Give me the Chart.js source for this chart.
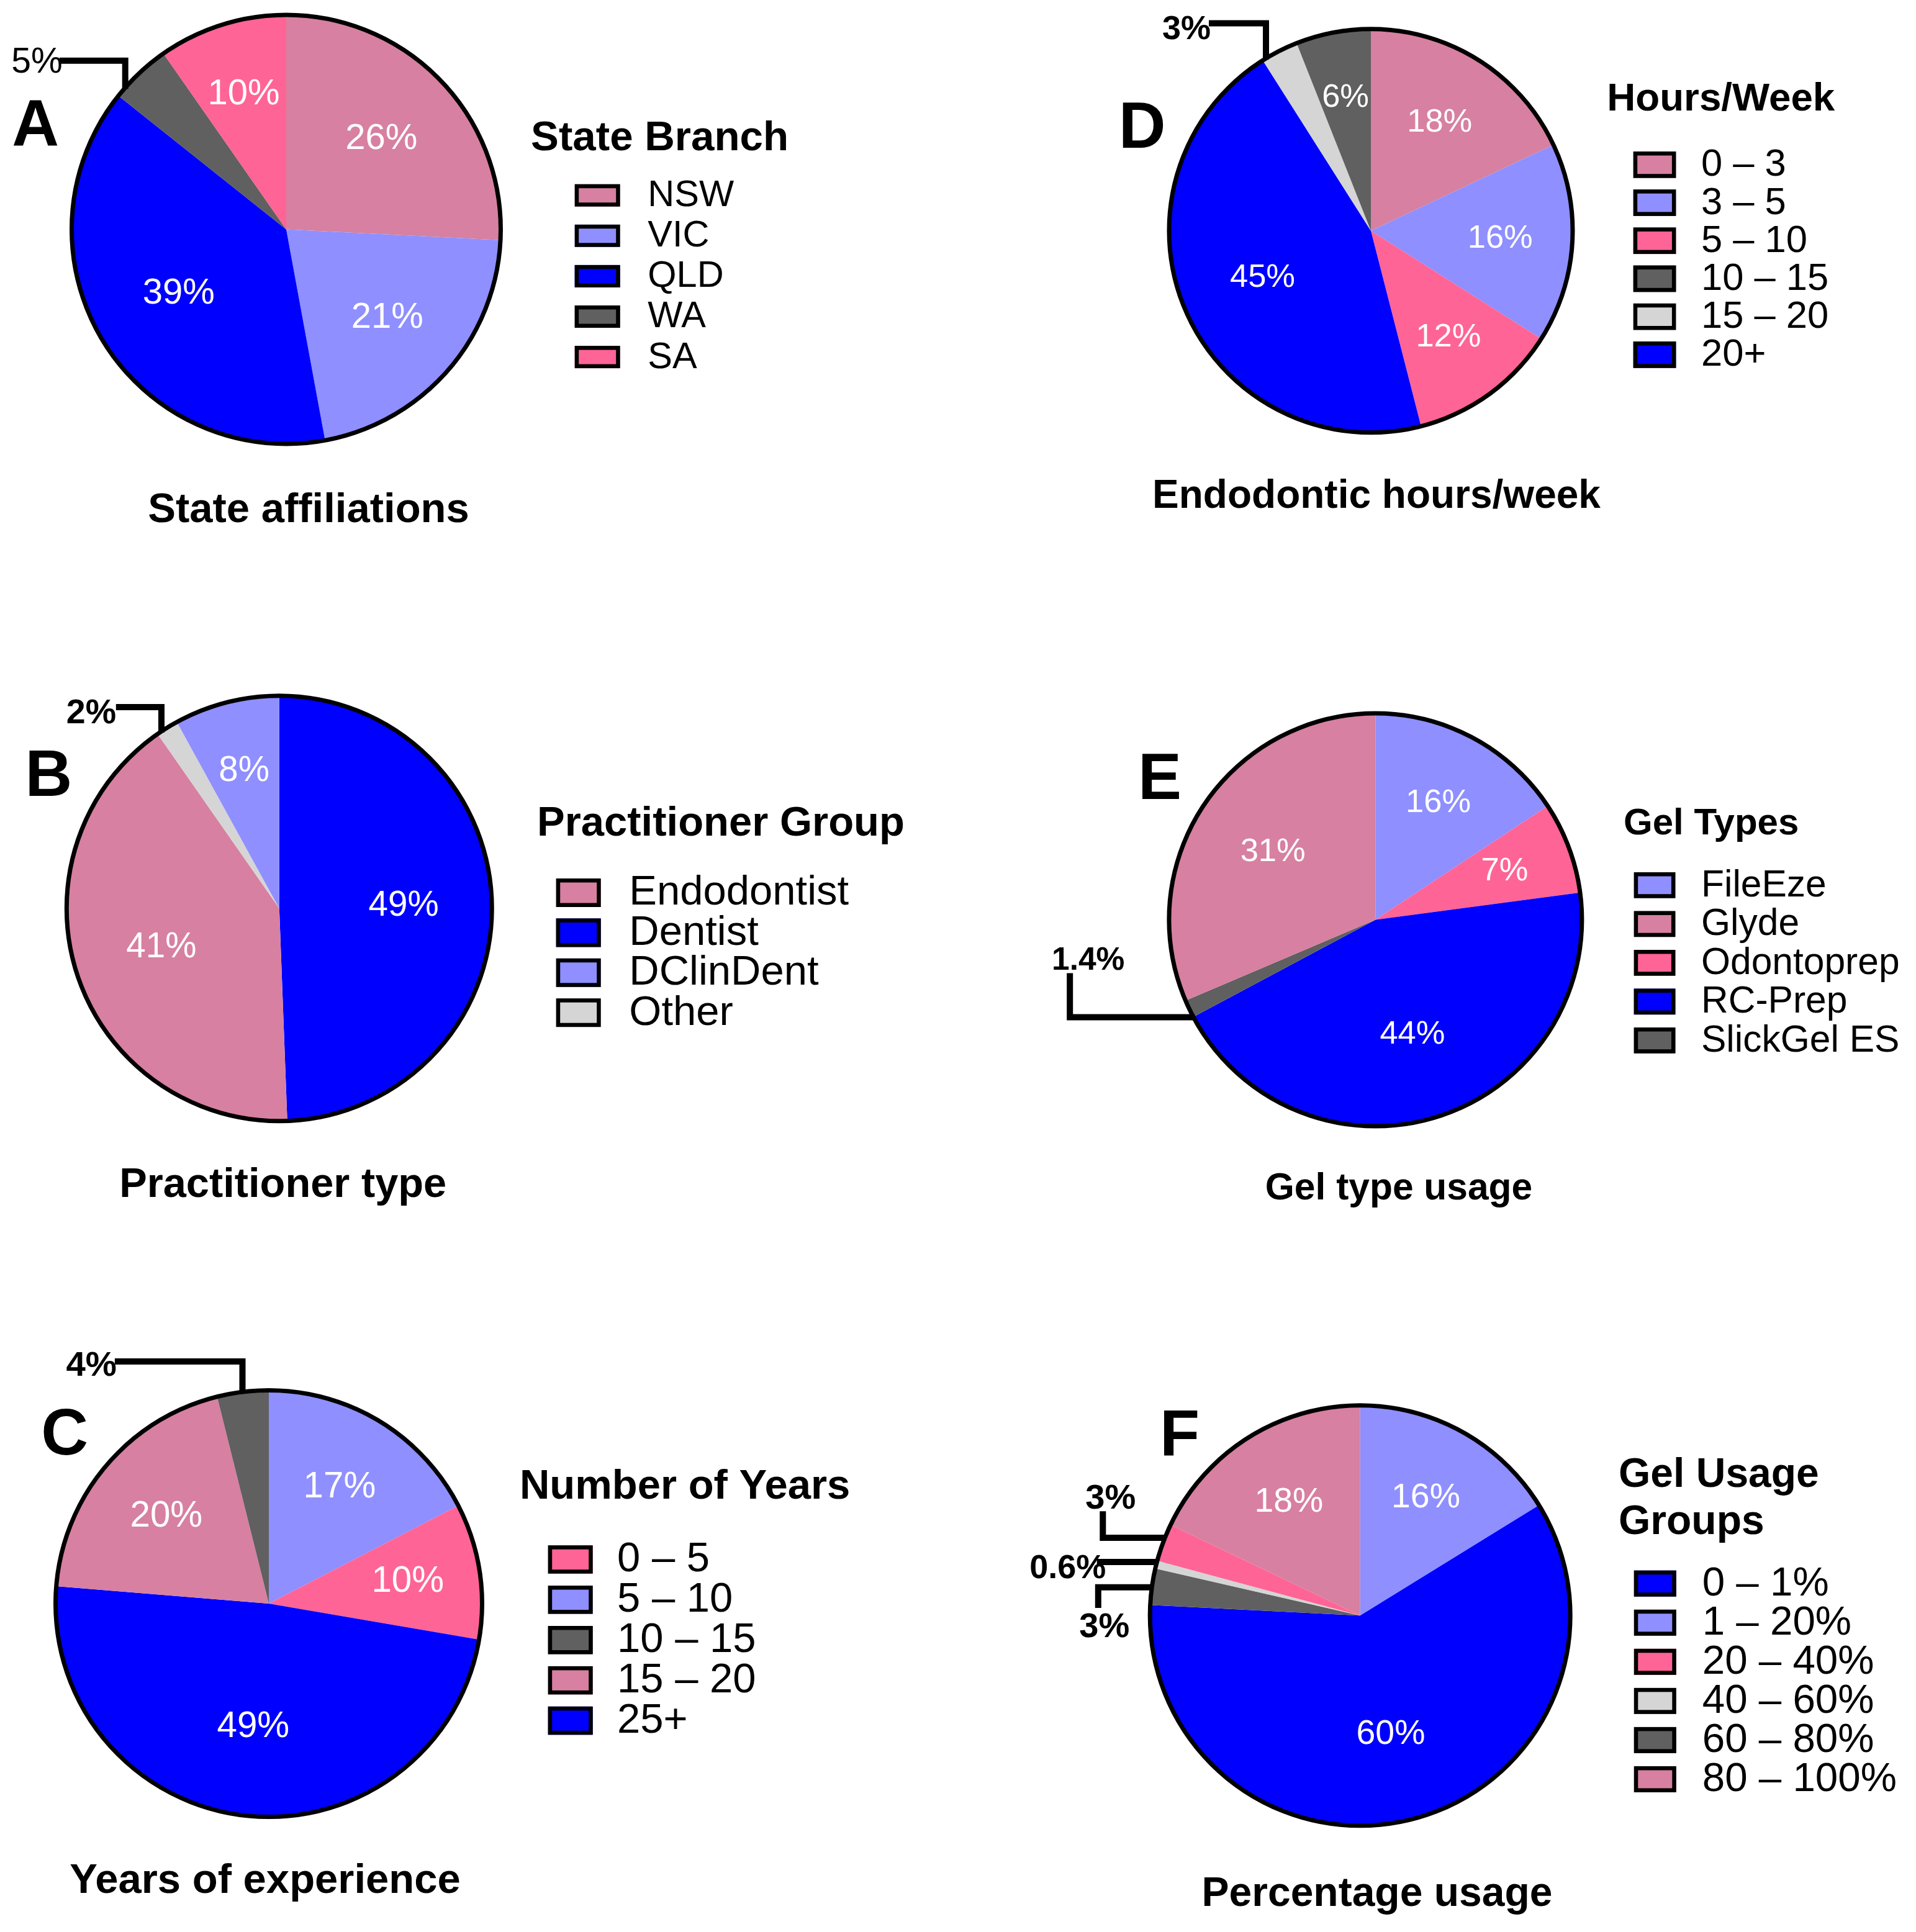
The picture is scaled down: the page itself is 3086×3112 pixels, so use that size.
<!DOCTYPE html>
<html><head><meta charset="utf-8">
<script src="https://cdn.jsdelivr.net/npm/chart.js@4"></script>
<style>
html,body{margin:0;padding:0;background:#fff;}
#wrap{position:relative;width:3086px;height:3112px;background:#fff;overflow:hidden;}
#wrap canvas{position:absolute;}
</style></head><body><div id="wrap"></div>
<script>
// ---------------- DATA ----------------
const stateCategories = ['NSW','VIC','QLD','WA','SA'];
const stateValues = [25.8, 21.3, 38.6, 4.6, 9.7];
const stateLabels = ['26%','21%','39%','5%','10%'];
const stateSliceOrder = [0,1,2,3,4];

const practitionerCategories = ['Endodontist','Dentist','DClinDent','Other'];
const practitionerValues = [40.9, 49.4, 8.0, 1.7];
const practitionerLabels = ['41%','49%','8%','2%'];
const practitionerSliceOrder = [1,0,3,2];

const yearsCategories = ['0 \u2013 5','5 \u2013 10','10 \u2013 15','15 \u2013 20','25+'];
const yearsValues = [10.3, 17.4, 3.9, 19.8, 48.6];
const yearsLabels = ['10%','17%','4%','20%','49%'];
const yearsSliceOrder = [1,0,4,3,2];

const hoursCategories = ['0 \u2013 3','3 \u2013 5','5 \u2013 10','10 \u2013 15','15 \u2013 20','20+'];
const hoursValues = [18, 16, 12, 6, 3, 45];
const hoursLabels = ['18%','16%','12%','6%','3%','45%'];
const hoursSliceOrder = [0,1,2,5,4,3];

const gelCategories = ['FileEze','Glyde','Odontoprep','RC-Prep','SlickGel ES'];
const gelValues = [15.7, 31.4, 7.2, 44.3, 1.4];
const gelLabels = ['16%','31%','7%','44%','1.4%'];
const gelSliceOrder = [0,2,3,4,1];

const usageCategories = ['0 \u2013 1%','1 \u2013 20%','20 \u2013 40%','40 \u2013 60%','60 \u2013 80%','80 \u2013 100%'];
const usageValues = [59.6, 16.2, 2.9, 0.6, 2.8, 17.9];
const usageLabels = ['60%','16%','3%','0.6%','3%','18%'];
const usageSliceOrder = [1,0,4,3,2,5];

// ---------------- STYLE ----------------
const C = {mauve:'#D780A1', lav:'#8F8FFF', blue:'#0000FF', dark:'#606060', light:'#D5D5D5', pink:'#FF6496'};
const FONT = '"Liberation Sans", Arial, Helvetica, sans-serif';
const OUTLINE = 7;      // pie outline width
const LEADER = 10;      // callout leader width
const BOXLINE = 6.5;    // legend box border

const panels = [
 { cats: stateCategories, vals: stateValues, labels: stateLabels, order: stateSliceOrder,
   colors: [C.mauve, C.lav, C.blue, C.dark, C.pink],
   region: {x:0, y:0, w:1543, h:1037}, pie: {cx:461, cy:369.5, r:349},
   letter: {t:'A', x:19.3, y:235}, legendTitle: {lines:['State Branch'], x:855, y:[242.3], size:67.3},
   legend: {bx:925.7, by:296.7, bw:73, bh:36, sp:65.1, tx:1043.3, size:59.5},
   title: {t:'State affiliations', x:497, y:841, size:67}, labelSize: 58,
   callouts: [{i:3, text:'5%', x:18.3, y:116.7, size:57, bold:false, pts:[[96,97.7],[201.7,97.7]], to:'down'}] },
 { cats: hoursCategories, vals: hoursValues, labels: hoursLabels, order: hoursSliceOrder,
   colors: [C.mauve, C.lav, C.pink, C.dark, C.light, C.blue],
   region: {x:1543, y:0, w:1543, h:1037}, pie: {cx:2208, cy:371.7, r:328.5},
   letter: {t:'D', x:1801.8, y:238.2}, legendTitle: {lines:['Hours/Week'], x:2588.3, y:[177.7], size:63.7},
   legend: {bx:2630.7, by:244, bw:68.7, bh:42.7, sp:61.2, tx:2740, size:61.5},
   title: {t:'Endodontic hours/week', x:2217, y:817.5, size:64}, labelSize: 52.5,
   callouts: [{i:4, text:'3%', x:1872, y:63.3, size:54, bold:true, pts:[[1947,37.6],[2039,37.6]], to:'down'}] },
 { cats: practitionerCategories, vals: practitionerValues, labels: practitionerLabels, order: practitionerSliceOrder,
   colors: [C.mauve, C.blue, C.lav, C.light],
   region: {x:0, y:1037, w:1543, h:1037}, pie: {cx:449.8, cy:1463.2, r:346},
   letter: {t:'B', x:40.5, y:1282.3}, legendTitle: {lines:['Practitioner Group'], x:865, y:[1346], size:67},
   legend: {bx:895.7, by:1415, bw:72, bh:46, sp:64.4, tx:1013.3, size:67},
   title: {t:'Practitioner type', x:455.7, y:1928.3, size:66.8}, labelSize: 56.5,
   callouts: [{i:3, text:'2%', x:106.8, y:1164.7, size:55.5, bold:true, pts:[[186.8,1139],[260,1139]], to:'down'}] },
 { cats: gelCategories, vals: gelValues, labels: gelLabels, order: gelSliceOrder,
   colors: [C.lav, C.mauve, C.pink, C.blue, C.dark],
   region: {x:1543, y:1037, w:1543, h:1037}, pie: {cx:2215.4, cy:1481.6, r:336},
   letter: {t:'E', x:1832.9, y:1286.8}, legendTitle: {lines:['Gel Types'], x:2615, y:[1344], size:60},
   legend: {bx:2631.7, by:1405, bw:66.7, bh:41.7, sp:62.5, tx:2740, size:60.5},
   title: {t:'Gel type usage', x:2253, y:1932.3, size:60.5}, labelSize: 52.5,
   callouts: [{i:4, text:'1.4%', x:1694, y:1562.1, size:51.5, bold:true, pts:[[1723.2,1567.6],[1723.2,1638.5]], to:'right'}] },
 { cats: yearsCategories, vals: yearsValues, labels: yearsLabels, order: yearsSliceOrder,
   colors: [C.pink, C.lav, C.dark, C.mauve, C.blue],
   region: {x:0, y:2074, w:1543, h:1038}, pie: {cx:433, cy:2583, r:347},
   letter: {t:'C', x:66.2, y:2343.3}, legendTitle: {lines:['Number of Years'], x:836.9, y:[2413.9], size:67},
   legend: {bx:882.7, by:2489.2, bw:72, bh:45.5, sp:64.9, tx:994, size:67},
   title: {t:'Years of experience', x:427, y:3048.6, size:67}, labelSize: 58.3,
   callouts: [{i:2, text:'4%', x:106.4, y:2216.2, size:56.3, bold:true, pts:[[184.9,2193],[390.5,2193]], to:'down'}] },
 { cats: usageCategories, vals: usageValues, labels: usageLabels, order: usageSliceOrder,
   colors: [C.blue, C.lav, C.pink, C.light, C.dark, C.mauve],
   region: {x:1543, y:2074, w:1543, h:1038}, pie: {cx:2190.7, cy:2602.3, r:342},
   letter: {t:'F', x:1868, y:2345.3}, legendTitle: {lines:['Gel Usage','Groups'], x:2607, y:[2394.7,2470.5], size:66},
   legend: {bx:2631.8, by:2529.7, bw:68, bh:42, sp:63.05, tx:2741.7, size:65.5},
   title: {t:'Percentage usage', x:2218, y:3069.5, size:66}, labelSize: 55.4,
   callouts: [
     {i:2, text:'3%', x:1748.3, y:2430, size:56, bold:true, pts:[[1776.3,2434.3],[1776.3,2477]], to:'right'},
     {i:3, text:'0.6%', x:1658.3, y:2541.7, size:54, bold:true, pts:[[1766.7,2516]], to:'right'},
     {i:4, text:'3%', x:1738.3, y:2636.7, size:56, bold:true, pts:[[1768.8,2590],[1768.8,2556.7]], to:'right'}] }
];

function makePlugin(p) {
  return {
    id: 'panelDecor',
    afterDatasetsDraw(chart) {
      const ctx = chart.ctx;
      const arcs = chart.getDatasetMeta(0).data;
      if (!arcs.length) return;
      const ox = p.region.x, oy = p.region.y;
      ctx.save();
      ctx.translate(-ox, -oy); // draw in page coordinates
      const cx = arcs[0].x + ox, cy = arcs[0].y + oy, R = arcs[0].outerRadius;
      // outer outline of the pie
      ctx.beginPath();
      ctx.arc(cx, cy, R, 0, Math.PI * 2);
      ctx.lineWidth = OUTLINE; ctx.strokeStyle = '#000'; ctx.stroke();
      // labels inside slices
      const total = p.vals.reduce((a, b) => a + b, 0);
      const calloutIdx = p.callouts.map(c => c.i);
      ctx.fillStyle = '#fff';
      ctx.font = p.labelSize + 'px ' + FONT;
      ctx.textAlign = 'center'; ctx.textBaseline = 'middle';
      p.order.forEach((catIdx, k) => {
        if (calloutIdx.includes(catIdx)) return;
        const a = arcs[k];
        const mid = (a.startAngle + a.endAngle) / 2;
        const frac = p.vals[catIdx] / total;
        const f = Math.max(0.585, 0.69 - 0.3 * frac);
        ctx.fillText(p.labels[catIdx], cx + Math.cos(mid) * f * R, cy + Math.sin(mid) * f * R);
      });
      // callouts with elbow leaders ending on the pie edge
      p.callouts.forEach(c => {
        const pts = c.pts.map(q => q.slice());
        const last = pts[pts.length - 1];
        let end;
        if (c.to === 'down') { const dx = last[0] - cx; end = [last[0], cy - Math.sqrt(R * R - dx * dx) + 2]; }
        else { const dy = last[1] - cy; end = [cx - Math.sqrt(R * R - dy * dy) + 2, last[1]]; }
        pts.push(end);
        ctx.beginPath();
        ctx.moveTo(pts[0][0], pts[0][1]);
        for (let j = 1; j < pts.length; j++) ctx.lineTo(pts[j][0], pts[j][1]);
        ctx.lineWidth = LEADER; ctx.strokeStyle = '#000'; ctx.lineJoin = 'miter'; ctx.lineCap = 'butt';
        ctx.stroke();
        ctx.fillStyle = '#000';
        ctx.font = (c.bold ? 'bold ' : '') + c.size + 'px ' + FONT;
        ctx.textAlign = 'left'; ctx.textBaseline = 'alphabetic';
        ctx.fillText(c.text, c.x, c.y);
      });
      // panel letter
      ctx.fillStyle = '#000';
      ctx.font = 'bold 105px ' + FONT;
      ctx.textAlign = 'left'; ctx.textBaseline = 'alphabetic';
      ctx.fillText(p.letter.t, p.letter.x, p.letter.y);
      // legend title
      ctx.font = 'bold ' + p.legendTitle.size + 'px ' + FONT;
      p.legendTitle.lines.forEach((ln, j) => ctx.fillText(ln, p.legendTitle.x, p.legendTitle.y[j]));
      // legend entries
      const L = p.legend;
      p.cats.forEach((cat, j) => {
        const y = L.by + j * L.sp;
        ctx.fillStyle = p.colors[j];
        ctx.fillRect(L.bx, y, L.bw, L.bh);
        ctx.lineWidth = BOXLINE; ctx.strokeStyle = '#000'; ctx.lineJoin = 'miter';
        ctx.strokeRect(L.bx + BOXLINE / 2, y + BOXLINE / 2, L.bw - BOXLINE, L.bh - BOXLINE);
        ctx.fillStyle = '#000';
        ctx.font = L.size + 'px ' + FONT;
        ctx.textBaseline = 'middle';
        ctx.fillText(cat, L.tx, y + L.bh / 2 + 1);
      });
      // bottom title
      ctx.font = 'bold ' + p.title.size + 'px ' + FONT;
      ctx.textAlign = 'center'; ctx.textBaseline = 'alphabetic';
      ctx.fillText(p.title.t, p.title.x, p.title.y);
      ctx.restore();
    }
  };
}

const wrap = document.getElementById('wrap');
panels.forEach(p => {
  const cv = document.createElement('canvas');
  cv.width = p.region.w; cv.height = p.region.h;
  cv.style.left = p.region.x + 'px'; cv.style.top = p.region.y + 'px';
  cv.style.width = p.region.w + 'px'; cv.style.height = p.region.h + 'px';
  wrap.appendChild(cv);
  const rIn = p.pie.r - OUTLINE / 2;
  const left = p.pie.cx - rIn - p.region.x;
  const top = p.pie.cy - rIn - p.region.y;
  const right = p.region.w - left - 2 * rIn;
  const bottom = p.region.h - top - 2 * rIn;
  new Chart(cv, {
    type: 'pie',
    data: {
      labels: p.order.map(i => p.cats[i]),
      datasets: [{
        data: p.order.map(i => p.vals[i]),
        backgroundColor: p.order.map(i => p.colors[i]),
        borderWidth: 0
      }]
    },
    options: {
      responsive: false, maintainAspectRatio: false, devicePixelRatio: 1, animation: false,
      rotation: 0,
      layout: {padding: {left, top, right, bottom}},
      plugins: {legend: {display: false}, tooltip: {enabled: false}, title: {display: false}}
    },
    plugins: [makePlugin(p)]
  });
});
</script></body></html>
